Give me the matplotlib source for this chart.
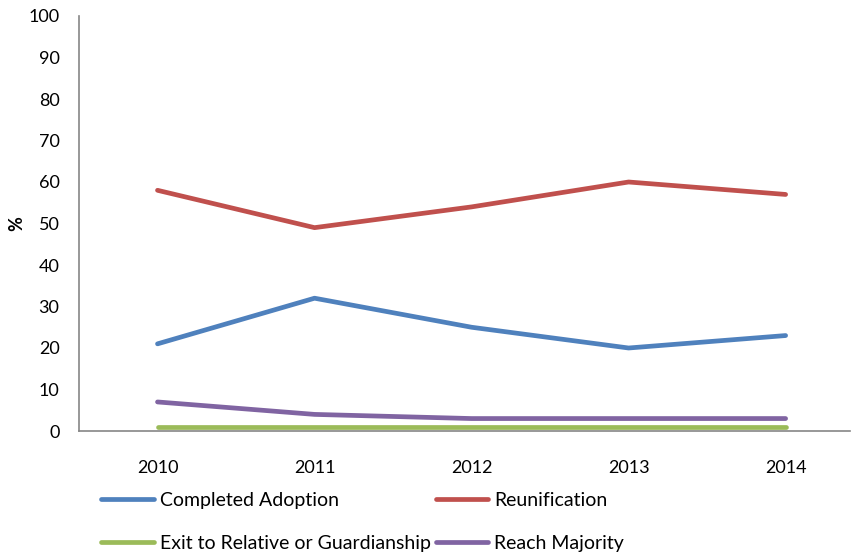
import matplotlib.pyplot as plt

years = ["2010", "2011", "2012", "2013", "2014"]
adoption = [21, 32, 25, 20, 23]
reunification = [58, 49, 54, 60, 57]
relative = [1, 1, 1, 1, 1]
majority = [7, 4, 3, 3, 3]

plt.rcParams['font.family'] = ['Lato', 'DejaVu Sans']

fig = plt.figure(figsize=(8.51, 5.54), dpi=100)
ax = fig.add_axes([79/851, 1 - 431/554, (850 - 79)/851, (431 - 16)/554])

x = list(range(len(years)))
lw = 3.4
l1, = ax.plot(x, adoption, color='#4F81BD', lw=lw, solid_capstyle='round', label='Completed Adoption')
l2, = ax.plot(x, reunification, color='#C0504D', lw=lw, solid_capstyle='round', label='Reunification')
l3, = ax.plot(x, relative, color='#9BBB59', lw=lw, solid_capstyle='round', label='Exit to Relative or Guardianship')
l4, = ax.plot(x, majority, color='#8064A2', lw=lw, solid_capstyle='round', label='Reach Majority')

ax.set_xlim(-0.5, 4.41)
ax.set_ylim(0, 100)
ax.set_yticks(range(0, 101, 10))
ax.set_xticks(x)
ax.set_xticklabels(years)
ax.tick_params(axis='both', length=0, labelsize=13, colors='black')
ax.tick_params(axis='x', pad=21)
ax.tick_params(axis='y', pad=14)

for s in ['top', 'right']:
    ax.spines[s].set_visible(False)
for s in ['left', 'bottom']:
    ax.spines[s].set_color('#868686')
    ax.spines[s].set_linewidth(1.2)

ax.set_ylabel('%', fontsize=13, fontweight='bold', labelpad=2)

# row-major order like the original (matplotlib fills columns first)
handles = [l1, l3, l2, l4]
leg = ax.legend(handles=handles, labels=[h.get_label() for h in handles],
                ncol=2, loc='upper left', bbox_to_anchor=(0.019, -0.128),
                frameon=False, fontsize=14, handlelength=2.7,
                handletextpad=0.3, columnspacing=0.25, labelspacing=1.35,
                borderaxespad=0)

fig.savefig('out.png', dpi=100)
